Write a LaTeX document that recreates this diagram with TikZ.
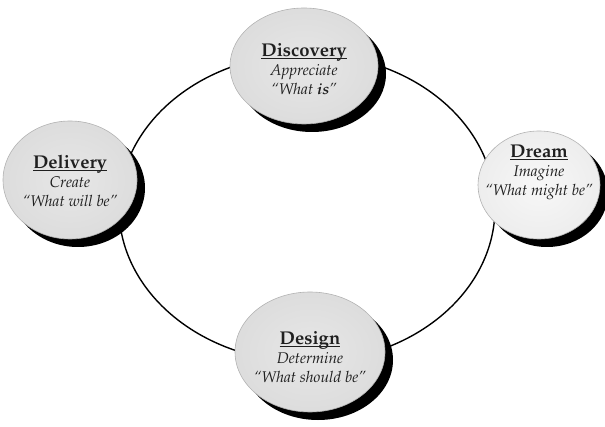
\documentclass[tikz,border=0pt]{standalone}
\usepackage[T1]{fontenc}
\usepackage{mathpazo}
\usetikzlibrary{shapes.geometric,shadows}
\newcommand\phtitle[1]{{\fontsize{18.5}{19}\selectfont\upshape\bfseries
  \setbox0\hbox{#1}\rlap{\rule[-2.6pt]{\wd0}{0.8pt}}\box0}}
\tikzset{
  ring/.style={draw=black, line width=1.4pt},
  phase/.style={ellipse, draw=gray!60, line width=0.6pt,
    inner color=gray!19, outer color=gray!27,
    drop shadow={shadow xshift=8pt, shadow yshift=-8pt, fill=black, opacity=1}},
  lightphase/.style={phase, inner color=gray!6, outer color=gray!14},
  ptext/.style={align=center, inner sep=0pt, text=black!88,
    font=\fontsize{15.5}{19}\selectfont\itshape}
}
\begin{document}
\begin{tikzpicture}[x=1pt,y=-1pt]
\useasboundingbox (0,0) rectangle (605,427);
\coordinate (ringc) at (307,208);
\draw[ring] (ringc) ellipse [x radius=188pt, y radius=154pt];

\node[phase, minimum width=148pt, minimum height=116pt] (discovery) at (304,66) {};
\node[phase, minimum width=134pt, minimum height=118pt] (delivery) at (70,180) {};
\node[lightphase, minimum width=122pt, minimum height=108pt] (dream) at (539,185) {};
\node[phase, minimum width=150pt, minimum height=120pt] (design) at (310,352) {};

\node[ptext] (discoverytext) at (304,69) {\phtitle{Discovery}\\ Appreciate\\ ``What \textbf{is}''};
\node[ptext] (deliverytext) at (70,181) {\phtitle{Delivery}\\ Create\\ ``What will be''};
\node[ptext] (dreamtext) at (539,172) {\phtitle{Dream}\\ Imagine\\ ``What might be''};
\node[ptext] (designtext) at (310,357) {\phtitle{Design}\\ Determine\\ ``What should be''};
\end{tikzpicture}
\end{document}
